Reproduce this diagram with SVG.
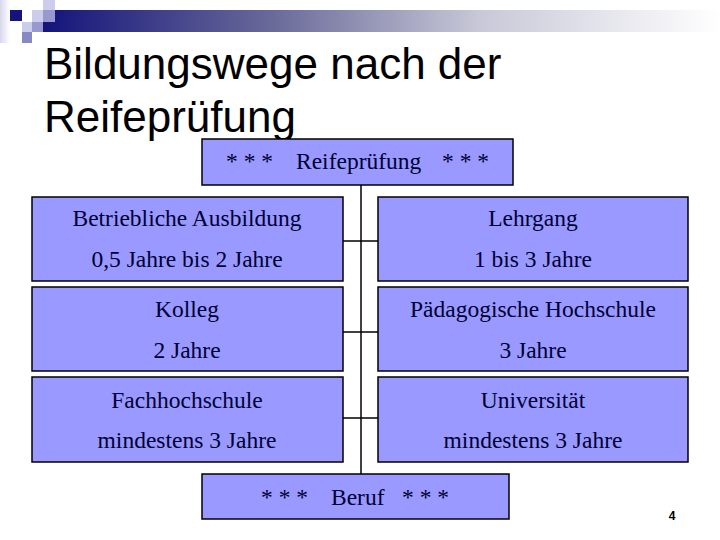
<svg xmlns="http://www.w3.org/2000/svg" width="720" height="540" viewBox="0 0 720 540">
<defs>
<linearGradient id="bar" x1="0" y1="0" x2="1" y2="0">
<stop offset="0" stop-color="#10107a"/>
<stop offset="0.35" stop-color="#6a6a9a"/>
<stop offset="0.65" stop-color="#c8c8d8"/>
<stop offset="1" stop-color="#ffffff"/>
</linearGradient>
<linearGradient id="fade" x1="0" y1="0" x2="1" y2="0">
<stop offset="0" stop-color="#d8d8ee"/>
<stop offset="1" stop-color="#ffffff"/>
</linearGradient>
<style>
.box{fill:#9999ff;stroke:#000;stroke-width:1.5}
.t{font-size:23.5px;fill:#000033;text-anchor:middle}
.s{font-size:23.5px;fill:#000033}
.c{stroke:#000;stroke-width:1.5;fill:none}
</style>
</defs>
<rect width="720" height="540" fill="#fff"/>
<g id="header">
<rect x="0" y="0" width="10" height="43" fill="url(#fade)"/>
<rect x="33" y="10" width="687" height="22" fill="url(#bar)"/>
<rect x="10" y="10" width="12" height="11" fill="#14147a"/>
<rect x="32" y="10" width="11" height="12" fill="#ccccec"/>
<rect x="43" y="0" width="12" height="10" fill="#ccccec"/>
<rect x="43" y="10" width="12" height="12" fill="#9999d0"/>
<rect x="22" y="22" width="10" height="10" fill="#ccccec"/>
<rect x="32" y="22" width="11" height="10" fill="#9999d0"/>
<rect x="22" y="32" width="10" height="11" fill="#8888c4"/>
</g>
<g id="title" font-family="Liberation Sans, Arial, sans-serif" font-size="44" fill="#000">
<text x="44" y="79">Bildungswege nach der</text>
<text x="44" y="132">Reifeprüfung</text>
</g>
<g id="connectors">
<line class="c" x1="361" y1="185" x2="361" y2="474"/>
<line class="c" x1="343" y1="241" x2="378" y2="241"/>
<line class="c" x1="343" y1="332" x2="378" y2="332"/>
<line class="c" x1="343" y1="418" x2="378" y2="418"/>
</g>
<g font-family="Liberation Serif, Times New Roman, serif">
<g id="reifepruefung">
<rect class="box" x="202" y="139" width="311" height="46"/>
<text class="s" x="226" y="169">* * *</text>
<text class="s" x="296" y="169">Reifeprüfung</text>
<text class="s" x="442" y="169">* * *</text>
</g>
<g id="betriebliche">
<rect class="box" x="32" y="197" width="311" height="84"/>
<text class="t" x="187" y="226">Betriebliche Ausbildung</text>
<text class="t" x="187" y="267">0,5 Jahre bis 2 Jahre</text>
</g>
<g id="lehrgang">
<rect class="box" x="378" y="197" width="310" height="84"/>
<text class="t" x="533" y="226">Lehrgang</text>
<text class="t" x="533" y="267">1 bis 3 Jahre</text>
</g>
<g id="kolleg">
<rect class="box" x="32" y="287" width="311" height="84"/>
<text class="t" x="187" y="317">Kolleg</text>
<text class="t" x="187" y="358">2 Jahre</text>
</g>
<g id="paedagogische">
<rect class="box" x="378" y="287" width="310" height="84"/>
<text class="t" x="533" y="317">Pädagogische Hochschule</text>
<text class="t" x="533" y="358">3 Jahre</text>
</g>
<g id="fachhochschule">
<rect class="box" x="32" y="377" width="311" height="85"/>
<text class="t" x="187" y="408">Fachhochschule</text>
<text class="t" x="187" y="448">mindestens 3 Jahre</text>
</g>
<g id="universitaet">
<rect class="box" x="378" y="377" width="310" height="85"/>
<text class="t" x="533" y="408">Universität</text>
<text class="t" x="533" y="448">mindestens 3 Jahre</text>
</g>
<g id="beruf">
<rect class="box" x="202" y="474" width="307" height="45"/>
<text class="s" x="261" y="505">* * *</text>
<text class="s" x="331" y="505">Beruf</text>
<text class="s" x="402" y="505">* * *</text>
</g>
</g>
<text x="672" y="520" font-family="Liberation Sans, Arial, sans-serif" font-size="12" font-weight="bold" text-anchor="middle" fill="#000">4</text>
</svg>
